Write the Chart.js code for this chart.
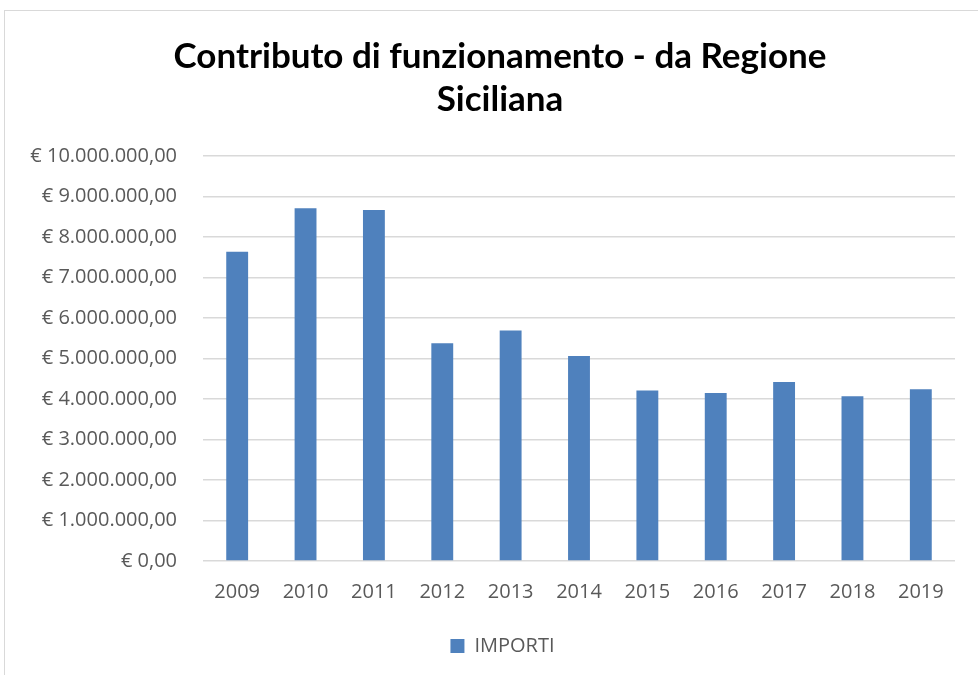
<!DOCTYPE html>
<html>
<head>
<meta charset="utf-8">
<script src="https://cdn.jsdelivr.net/npm/chart.js@4"></script>
<style>
  html, body { margin: 0; padding: 0; background: #fff; overflow: hidden; }
  #wrap { position: absolute; left: 0; top: 0; width: 978px; height: 675px; }
  #frame { position: absolute; left: 4px; top: 10px; width: 1000px; height: 700px; border: 1.5px solid #d9d9d9; }
</style>
</head>
<body>
<div id="frame"></div>
<div id="wrap"><canvas id="grafico"></canvas></div>
<script>
// Anni e importi
const anni = ['2009', '2010', '2011', '2012', '2013', '2014', '2015', '2016', '2017', '2018', '2019'];
const importi = [7640000, 8710000, 8670000, 5380000, 5690000, 5060000, 4210000, 4150000, 4420000, 4070000, 4240000];
const titolo = ['Contributo di funzionamento - da Regione', 'Siciliana'];

function formatEuro(v) {
  const intero = Math.round(v).toString().replace(/\B(?=(\d{3})+(?!\d))/g, '.');
  return '€ ' + intero + ',00';
}

const fontTesto = '"Open Sans", sans-serif';

// titolo e legenda nell'originale sono centrati sulla pagina, non sull'area del grafico
const centraBlocchi = {
  id: 'centraBlocchi',
  afterLayout(chart) {
    if (chart.titleBlock) chart.titleBlock.left = 45;
    if (chart.legend) chart.legend.left = 50;
  }
};

const ctx = document.getElementById('grafico').getContext('2d');
new Chart(ctx, {
  type: 'bar',
  data: {
    labels: anni,
    datasets: [{
      label: 'IMPORTI',
      data: importi,
      backgroundColor: '#4f81bd',
      borderWidth: 0,
      categoryPercentage: 1,
      barPercentage: 0.32
    }]
  },
  options: {
    responsive: true,
    maintainAspectRatio: false,
    animation: false,
    layout: { padding: { left: 10, right: 23, top: 35, bottom: 9 } },
    plugins: {
      title: {
        display: true,
        text: titolo,
        color: '#000',
        font: { family: 'Lato, sans-serif', size: 35, weight: 'bold', lineHeight: 1.23 },
        padding: { top: 0, bottom: 35 }
      },
      legend: {
        position: 'bottom',
        labels: {
          color: '#595959',
          font: { family: fontTesto, size: 20 },
          boxWidth: 14,
          boxHeight: 14,
          padding: 13
        }
      },
      tooltip: { enabled: false }
    },
    scales: {
      x: {
        grid: { display: false, drawTicks: false },
        border: { display: false },
        ticks: {
          color: '#595959',
          font: { family: fontTesto, size: 20 },
          padding: 19
        }
      },
      y: {
        min: 0,
        max: 10000000,
        afterFit: (s) => { s.width = 193; },
        grid: { color: '#d9d9d9', lineWidth: 1.5, drawTicks: false },
        border: { display: false },
        ticks: {
          stepSize: 1000000,
          color: '#595959',
          font: { family: fontTesto, size: 20 },
          padding: 26,
          callback: (v) => formatEuro(v)
        }
      }
    }
  },
  plugins: [centraBlocchi]
});
</script>
</body>
</html>
